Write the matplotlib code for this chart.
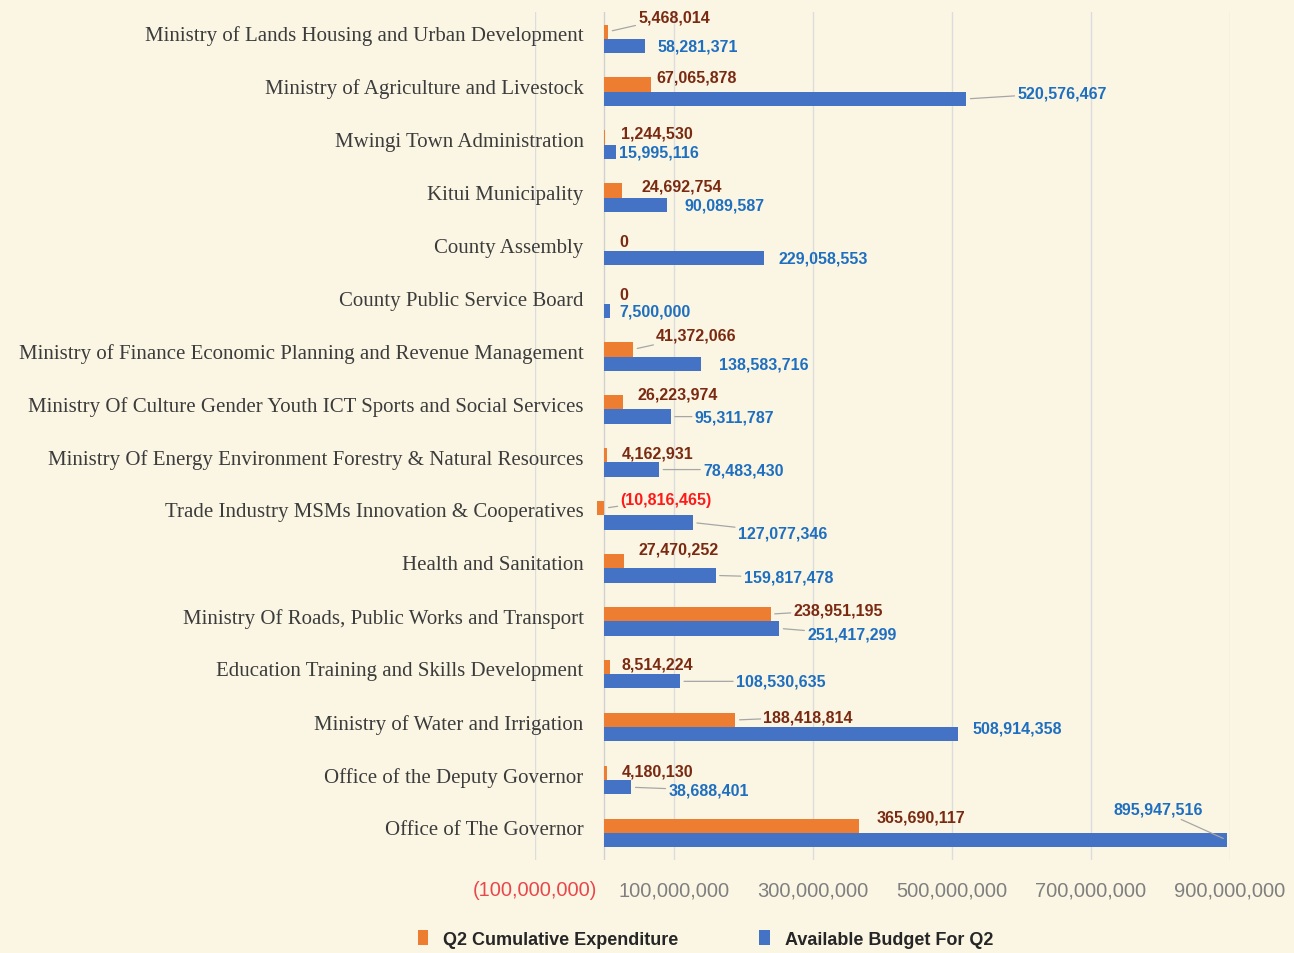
import numpy as np
import matplotlib.pyplot as plt
import matplotlib.transforms as mtransforms
from matplotlib.ticker import FuncFormatter

# departments, top to bottom as shown
departments = [
    'Ministry of Lands Housing and Urban Development',
    'Ministry of Agriculture and Livestock',
    'Mwingi Town Administration',
    'Kitui Municipality',
    'County Assembly',
    'County Public Service Board',
    'Ministry of Finance Economic Planning and Revenue Management',
    'Ministry Of Culture Gender Youth ICT Sports and Social Services',
    'Ministry Of Energy Environment Forestry & Natural Resources',
    'Trade Industry MSMs Innovation & Cooperatives',
    'Health and Sanitation',
    'Ministry Of Roads, Public Works and Transport',
    'Education Training and Skills Development',
    'Ministry of Water and Irrigation',
    'Office of the Deputy Governor',
    'Office of The Governor',
]
expenditure_q2 = [5468014, 67065878, 1244530, 24692754, 0, 0, 41372066, 26223974,
                  4162931, -10816465, 27470252, 238951195, 8514224, 188418814,
                  4180130, 365690117]
budget_q2 = [58281371, 520576467, 15995116, 90089587, 229058553, 7500000, 138583716,
             95311787, 78483430, 127077346, 159817478, 251417299, 108530635,
             508914358, 38688401, 895947516]
x_ticks = [-100e6, 100e6, 300e6, 500e6, 700e6, 900e6]

# label placement (offset pixels from bar end) and leader-line flags
exp_off = [(30, 15), (5, 8), (16, 5), (20, 5), (15, 2), (15, 2), (23, 14), (15, 8),
           (14, 2), (16, 9), (15, 12), (23, 4), (11, 3), (28, 3), (14, 2), (18, 9)]
exp_lead = [1, 0, 0, 0, 0, 0, 1, 0, 0, 1, 0, 1, 0, 1, 0, 0]
bud_off = [(13, 0), (51, 6), (3, 0), (17, 0), (15, 0), (10, 0), (18, 0), (24, 0),
           (44, 0), (45, -10), (28, -2), (28, -6), (56, 0), (14, 6), (37, -3), (-24, 31)]
bud_lead = [0, 1, 0, 0, 0, 0, 0, 1, 1, 1, 1, 1, 1, 0, 1, 1]

ORANGE = '#ED7D31'
BLUE = '#4472C4'
BG = '#FBF6E4'
LBL = 'Liberation Sans'

fig = plt.figure(figsize=(12.94, 9.54), dpi=100, facecolor=BG)
ax = fig.add_axes([0.4134, 0.098, 0.5371, 0.888])
ax.set_facecolor('none')

y = np.arange(len(departments))
h = 0.27
ax.barh(y - h / 2, expenditure_q2, height=h, color=ORANGE, label='Q2 Cumulative Expenditure', zorder=3)
ax.barh(y + h / 2, budget_q2, height=h, color=BLUE, label='Available Budget For Q2', zorder=3)

ax.set_xlim(-100e6, 900e6)
ax.set_ylim(len(departments) - 0.5, -0.5)
ax.set_xticks(x_ticks)
ax.xaxis.set_major_formatter(FuncFormatter(
    lambda v, p: '({:,.0f})'.format(-v) if v < 0 else '{:,.0f}'.format(v)))
ax.grid(axis='x', color='#DCDCDC', lw=1, zorder=0)
ax.axvline(0, color='#D0D0D0', lw=1, zorder=1)
for s in ax.spines.values():
    s.set_visible(False)
ax.tick_params(axis='x', length=0, pad=15, labelsize=14.5, labelcolor='#7F7F7F')
for lab in ax.get_xticklabels():
    lab.set_family(LBL)
    if lab.get_text().startswith('('):
        lab.set_color('#E8474B')

ax.set_yticks(y)
ax.set_yticklabels(departments, family='Liberation Serif', fontsize=15, color='#3C3C3C')
ax.tick_params(axis='y', length=0, pad=-35)
up = mtransforms.ScaledTranslation(0, 6 / 100, fig.dpi_scale_trans)
for lab in ax.get_yticklabels():
    lab.set_transform(lab.get_transform() + up)

lead = dict(arrowstyle='-', color='#A6A6A6', lw=0.9, shrinkA=0, shrinkB=3)
for i in range(len(departments)):
    ev, bv = expenditure_q2[i], budget_q2[i]
    etxt = '({:,})'.format(-ev) if ev < 0 else '{:,}'.format(ev)
    ax.annotate(etxt, xy=(max(ev, 0), y[i] - h / 2), xytext=exp_off[i], textcoords='offset pixels',
                ha='left', va='center', fontsize=11.5, fontweight='bold', family=LBL,
                color='#FF1A1A' if ev < 0 else '#7B2A12',
                arrowprops=lead if exp_lead[i] else None, zorder=5)
    ax.annotate('{:,}'.format(bv), xy=(bv, y[i] + h / 2), xytext=bud_off[i], textcoords='offset pixels',
                ha='right' if bud_off[i][0] < 0 else 'left', va='center', fontsize=11.5,
                fontweight='bold', family=LBL, color='#1F6FC0',
                arrowprops=lead if bud_lead[i] else None, zorder=5)

leg = fig.legend(loc='lower center', bbox_to_anchor=(0.545, -0.012), ncol=2, frameon=False,
                 handlelength=0.6, handleheight=0.9, columnspacing=4.5,
                 prop={'family': LBL, 'weight': 'bold', 'size': 13})
for t in leg.get_texts():
    t.set_color('#262626')

fig.savefig('out.png', dpi=100, facecolor=BG)
